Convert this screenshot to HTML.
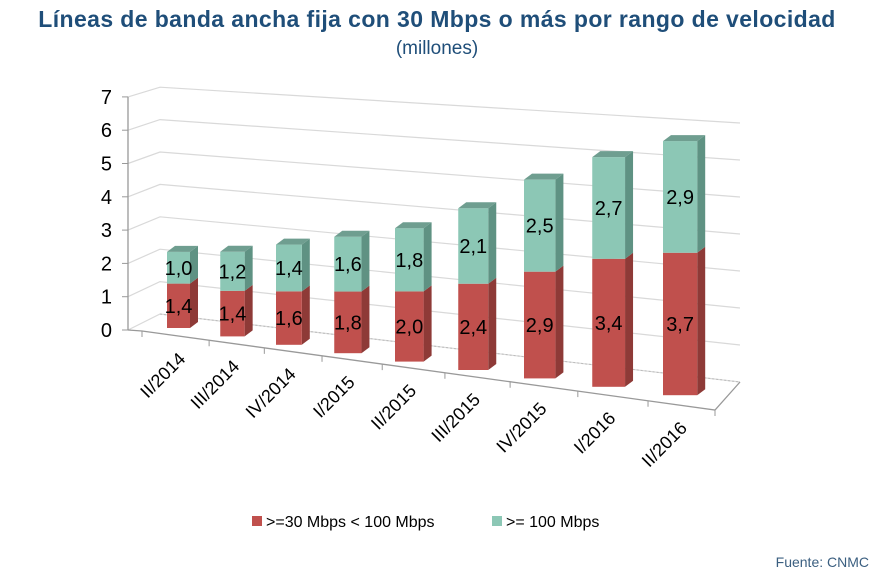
<!DOCTYPE html>
<html><head><meta charset="utf-8">
<style>
body{margin:0;background:#fff;width:891px;height:575px;overflow:hidden;font-family:"Liberation Sans",Arial,sans-serif}
svg{display:block}
</style></head>
<body>
<svg id="chart" width="891" height="575" viewBox="0 0 891 575" xmlns="http://www.w3.org/2000/svg">
<text x="437" y="27" text-anchor="middle" font-size="23" font-weight="bold" letter-spacing="0.4" fill="#1f4e79">Líneas de banda ancha fija con 30 Mbps o más por rango de velocidad</text>
<text x="437" y="54" text-anchor="middle" font-size="19" fill="#1f4e79">(millones)</text>
<g id="grid"></g>
<g id="bars"></g>
<g id="axes"></g>
<g>
<rect x="252" y="516" width="10" height="10" fill="#c0504d"/>
<text x="266" y="527" font-size="16" fill="#000">&gt;=30 Mbps &lt; 100 Mbps</text>
<rect x="492" y="516" width="10" height="10" fill="#8cc7b5"/>
<text x="506" y="527" font-size="16" fill="#000">&gt;= 100 Mbps</text>
</g>
<text x="869" y="567" text-anchor="end" font-size="14" fill="#3b5f80">Fuente: CNMC</text>
</svg>
<script>
const categories=["II/2014","III/2014","IV/2014","I/2015","II/2015","III/2015","IV/2015","I/2016","II/2016"];
const seriesLow=[1.4,1.4,1.6,1.8,2.0,2.4,2.9,3.4,3.7];
const seriesHigh=[1.0,1.2,1.4,1.6,1.8,2.1,2.5,2.7,2.9];
const labelsLow=["1,4","1,4","1,6","1,8","2,0","2,4","2,9","3,4","3,7"];
const labelsHigh=["1,0","1,2","1,4","1,6","1,8","2,1","2,5","2,7","2,9"];
const yTicks=[0,1,2,3,4,5,6,7];

const NS="http://www.w3.org/2000/svg";
function mk(tag,attrs,parent){const e=document.createElementNS(NS,tag);for(const k in attrs)e.setAttribute(k,attrs[k]);parent.appendChild(e);return e;}
const grid=document.getElementById('grid'),bars=document.getElementById('bars'),axes=document.getElementById('axes');
function axisY(v){return 330-v*33.3;}
function backLeftY(v){return 314-v*32.4;}
function backRightY(v){return 382-v*37;}
function barLeft(i){return 167+52*i+1.25*i*i;}
function barWidth(i){return 23+1.4*i;}
function barBase(i){return 328+8.4*i;}
function barScale(i){return 31.7+i*0.85;}
function barY(i,v){return barBase(i)-v*barScale(i);}

yTicks.forEach(v=>{
  const g=mk('polyline',{points:`128,${axisY(v)} 160,${backLeftY(v)} 740,${backRightY(v)}`,fill:'none',stroke:'#d9d9d9','stroke-width':1.2},grid);
  
  
  const t=mk('text',{x:112,y:axisY(v)+7,'text-anchor':'end','font-size':20,fill:'#000'},axes);
  t.textContent=v;
  
  
  mk('line',{x1:122,y1:axisY(v),x2:128,y2:axisY(v),stroke:'#999'},axes);
});
mk('line',{x1:128,y1:axisY(7),x2:128,y2:axisY(0),stroke:'#999','stroke-width':1.3},axes);
const fl=mk('polyline',{points:`128,${axisY(0)} 142,331 715,410 740,${backRightY(0)}`,fill:'none',stroke:'#999','stroke-width':1.3},axes);


mk('line',{x1:160,y1:backLeftY(0),x2:740,y2:backRightY(0),stroke:'#bbb','stroke-dasharray':'2,2'},grid);
function frontY(x){return 331+(x-142)*(79/573);}
for(let i=0;i<=categories.length;i++){
  let xx;
  if(i===0)xx=142;else if(i===categories.length)xx=715;else xx=(barLeft(i-1)+barWidth(i-1)+barLeft(i))/2+4;
  mk('line',{x1:xx,y1:frontY(xx),x2:xx,y2:frontY(xx)+6,stroke:'#999'},axes);
}

categories.forEach((c,i)=>{
  const x=barLeft(i),w=barWidth(i),d=8,dy=6;
  const y0=barY(i,0),y1=barY(i,seriesLow[i]),y2=barY(i,seriesLow[i]+seriesHigh[i]);
  const g=mk('g',{},bars);
  
  
  mk('polygon',{points:`${x+w},${y1} ${x+w+d},${y1-dy} ${x+w+d},${y0-dy} ${x+w},${y0}`,fill:'#8e3a37'},g);
  mk('rect',{x:x,y:y1,width:w,height:y0-y1,fill:'#c0504d'},g);
  mk('polygon',{points:`${x+w},${y2} ${x+w+d},${y2-dy} ${x+w+d},${y1-dy} ${x+w},${y1}`,fill:'#5f9283'},g);
  mk('rect',{x:x,y:y2,width:w,height:y1-y2,fill:'#8cc7b5'},g);
  mk('polygon',{points:`${x},${y2} ${x+d},${y2-dy} ${x+w+d},${y2-dy} ${x+w},${y2}`,fill:'#6f9e90'},g);
  const t1=mk('text',{x:x+w/2,y:(y0+y1)/2+7,'text-anchor':'middle','font-size':20,fill:'#000'},g);
  t1.textContent=labelsLow[i];
  
  
  const t2=mk('text',{x:x+w/2,y:(y1+y2)/2+7,'text-anchor':'middle','font-size':20,fill:'#000'},g);
  t2.textContent=labelsHigh[i];
  
  
  const lx=x+w/2+8,ly=frontY(x+w/2)+24;
  const tl=mk('text',{x:lx,y:ly,'text-anchor':'end','font-size':18,fill:'#000',transform:`rotate(-45 ${lx} ${ly})`},axes);
  tl.textContent=c;
  
  
});
</script>
</body></html>
